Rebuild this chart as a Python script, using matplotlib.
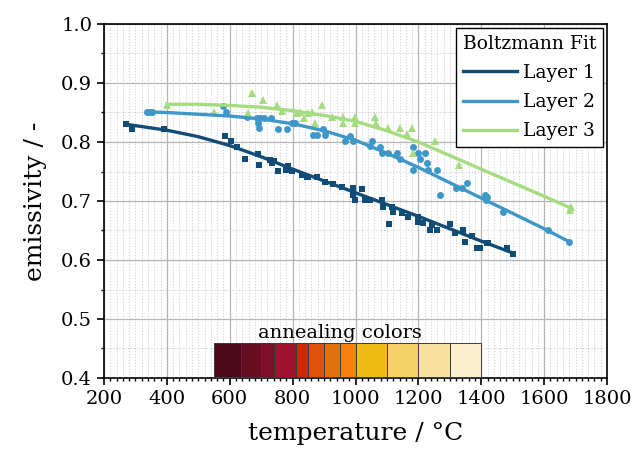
import numpy as np
import matplotlib
matplotlib.use("Agg")
import matplotlib.pyplot as plt
from matplotlib.ticker import MultipleLocator

plt.rcParams['font.family'] = ['DejaVu Serif']

# messpunkte (temperatur in °C, emissivität)
t1 = [270, 288, 391, 585, 603, 622, 648, 691, 694, 728, 735, 740, 754, 780, 786, 797,
      829, 845, 850, 876, 903, 929, 956, 993, 993, 998, 1020, 1030, 1046, 1083, 1088,
      1107, 1115, 1120, 1147, 1168, 1200, 1200, 1216, 1237, 1242, 1258, 1300, 1316,
      1343, 1348, 1369, 1385, 1396, 1417, 1420, 1481, 1502]
e1 = [0.830, 0.822, 0.822, 0.811, 0.802, 0.791, 0.771, 0.780, 0.761, 0.770, 0.765, 0.768,
      0.751, 0.753, 0.759, 0.751, 0.744, 0.741, 0.741, 0.741, 0.733, 0.729, 0.723, 0.722,
      0.710, 0.702, 0.720, 0.702, 0.701, 0.702, 0.690, 0.661, 0.690, 0.682, 0.679, 0.673,
      0.673, 0.665, 0.662, 0.651, 0.659, 0.651, 0.661, 0.645, 0.651, 0.631, 0.640, 0.620,
      0.620, 0.629, 0.629, 0.620, 0.610]

t2 = [338, 345, 352, 580, 587, 654, 686, 689, 693, 696, 709, 730, 754, 781, 797, 807,
      866, 876, 897, 903, 966, 982, 993, 1046, 1051, 1078, 1083, 1104, 1131, 1141, 1184,
      1184, 1200, 1205, 1221, 1226, 1232, 1258, 1269, 1319, 1338, 1354, 1412, 1415, 1417,
      1468, 1613, 1680]
e2 = [0.851, 0.851, 0.851, 0.861, 0.851, 0.842, 0.841, 0.833, 0.823, 0.841, 0.840, 0.841,
      0.822, 0.822, 0.833, 0.832, 0.812, 0.812, 0.822, 0.812, 0.802, 0.810, 0.801, 0.793,
      0.802, 0.791, 0.781, 0.782, 0.782, 0.771, 0.791, 0.753, 0.782, 0.771, 0.782, 0.764,
      0.753, 0.753, 0.710, 0.722, 0.722, 0.731, 0.710, 0.702, 0.706, 0.681, 0.651, 0.631]

t3 = [401, 550, 659, 670, 707, 749, 765, 813, 823, 835, 850, 861, 871, 892, 924, 961,
      961, 998, 998, 1062, 1065, 1104, 1141, 1163, 1179, 1184, 1253, 1330, 1682, 1685]
e3 = [0.863, 0.851, 0.850, 0.883, 0.871, 0.863, 0.853, 0.849, 0.851, 0.840, 0.849, 0.851,
      0.833, 0.863, 0.842, 0.842, 0.833, 0.842, 0.832, 0.842, 0.833, 0.823, 0.823, 0.814,
      0.823, 0.781, 0.802, 0.761, 0.685, 0.690]

# Boltzmann-Fit
fit1_t = [270, 400, 500, 600, 700, 800, 900, 1000, 1100, 1200, 1300, 1400, 1500]
fit1_e = [0.830, 0.820, 0.809, 0.794, 0.775, 0.754, 0.734, 0.714, 0.694, 0.674, 0.653, 0.632, 0.612]
fit2_t = [335, 400, 500, 600, 700, 800, 900, 1000, 1100, 1200, 1300, 1400, 1500, 1600, 1680]
fit2_e = [0.851, 0.850, 0.847, 0.844, 0.839, 0.831, 0.819, 0.803, 0.781, 0.757, 0.731, 0.705,
          0.679, 0.653, 0.631]
fit3_t = [400, 500, 600, 700, 800, 900, 1000, 1100, 1200, 1300, 1400, 1500, 1600, 1685]
fit3_e = [0.864, 0.864, 0.862, 0.859, 0.853, 0.845, 0.835, 0.819, 0.800, 0.777, 0.754, 0.731,
          0.708, 0.688]

# Anlassfarben
anneal_edges = [550, 635, 700, 740, 810, 850, 900, 950, 1000, 1100, 1200, 1300, 1400]
anneal_colors = ['#4a0a1a', '#690d22', '#7c1027', '#a0122f', '#cc2a06', '#df5108',
                 '#e0720c', '#f7800f', '#f0bb17', '#f5d064', '#f7e19c', '#faeecd']

c1, c2, c3 = '#114c76', '#3f97c9', '#a6dc80'

fig = plt.figure(figsize=(6.44, 4.57), dpi=100)
ax = fig.add_axes([104 / 644, 1 - 378 / 457, 503 / 644, 354 / 457])

ax.plot(t1, e1, 's', color=c1, ms=4.8, mew=0, zorder=3)
ax.plot(t2, e2, 'o', color=c2, ms=5.0, mew=0, zorder=3)
ax.plot(t3, e3, '^', color=c3, ms=6.2, mew=0, zorder=3)
ax.plot(fit1_t, fit1_e, '-', color=c1, lw=2.4, label='Layer 1', zorder=4)
ax.plot(fit2_t, fit2_e, '-', color=c2, lw=2.4, label='Layer 2', zorder=4)
ax.plot(fit3_t, fit3_e, '-', color=c3, lw=2.4, label='Layer 3', zorder=4)

ax.bar(anneal_edges[:-1], 0.059, width=np.diff(anneal_edges), bottom=0.401,
       align='edge', color=anneal_colors, edgecolor='#3a3a3a', linewidth=0.7, zorder=3)
ax.text(950, 0.468, 'annealing colors', ha='center', va='baseline', fontsize=14, zorder=5)

ax.set_xlim(200, 1800)
ax.set_ylim(0.4, 1.0)
ax.xaxis.set_major_locator(MultipleLocator(200))
ax.xaxis.set_minor_locator(MultipleLocator(20))
ax.yaxis.set_major_locator(MultipleLocator(0.1))
ax.yaxis.set_minor_locator(MultipleLocator(0.05))
ax.yaxis.set_major_formatter(matplotlib.ticker.FormatStrFormatter('%.1f'))
ax.grid(True, which='major', color='#b4b4b4', lw=0.9)
ax.grid(True, which='minor', color='#c8c8c8', lw=0.6, ls=(0, (1.5, 2)))
ax.set_axisbelow(True)
ax.tick_params(which='major', direction='out', length=5, width=1.2, labelsize=14, color='black')
ax.tick_params(which='minor', direction='out', length=2.5, width=1)
for s in ax.spines.values():
    s.set_linewidth(1.2)

ax.set_xlabel('temperature / °C', fontsize=18, labelpad=10)
ax.set_ylabel('emissivity / -', fontsize=18, labelpad=10)

leg = ax.legend(title='Boltzmann Fit', loc='upper right', fontsize=13.5, title_fontsize=13.5,
                frameon=True, fancybox=False, framealpha=1, edgecolor='black',
                borderaxespad=0.22, handlelength=2.9, handletextpad=0.3,
                labelspacing=0.6, borderpad=0.35, alignment='left')
leg.get_frame().set_linewidth(1.0)

fig.savefig('out.png', dpi=100)
